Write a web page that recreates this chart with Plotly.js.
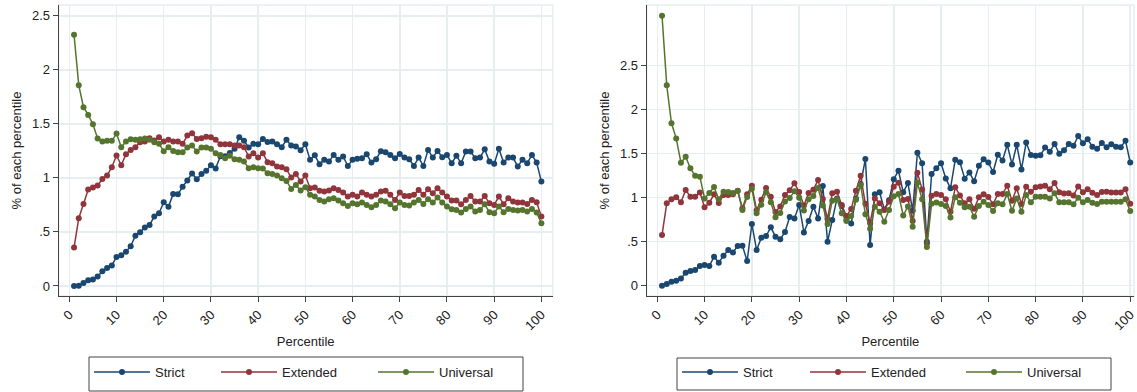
<!DOCTYPE html>
<html>
<head>
<meta charset="utf-8">
<script src="https://cdn.plot.ly/plotly-3.0.1.min.js"></script>
<style>html,body{margin:0;padding:0;background:#fff;}#chart{width:1137px;height:392px;}</style>
</head>
<body>
<div id="chart"></div>
<script>
const percentile = [1,2,3,4,5,6,7,8,9,10,11,12,13,14,15,16,17,18,19,20,21,22,23,24,25,26,27,28,29,30,31,32,33,34,35,36,37,38,39,40,41,42,43,44,45,46,47,48,49,50,51,52,53,54,55,56,57,58,59,60,61,62,63,64,65,66,67,68,69,70,71,72,73,74,75,76,77,78,79,80,81,82,83,84,85,86,87,88,89,90,91,92,93,94,95,96,97,98,99,100];
const seriesNames = ["Strict", "Extended", "Universal"];
const xTicks = [0,10,20,30,40,50,60,70,80,90,100];
const yTicksLeft = [0,0.5,1,1.5,2,2.5];
const yTickTextLeft = ["0",".5","1","1.5","2","2.5"];
const yTicksRight = [0,0.5,1,1.5,2,2.5];
const yTickTextRight = ["0",".5","1","1.5","2","2.5"];

// Left panel
const leftStrict = [0.0,0.003,0.027,0.053,0.06,0.087,0.135,0.165,0.19,0.268,0.284,0.316,0.368,0.465,0.497,0.542,0.565,0.642,0.672,0.775,0.732,0.852,0.848,0.917,0.977,1.041,0.987,
1.035,1.065,1.118,1.088,1.2,1.2,1.23,1.27,1.377,1.343,1.281,1.315,1.312,1.361,1.333,1.336,1.312,1.284,1.352,1.299,1.29,1.256,1.312,1.167,1.21,1.127,1.167,1.151,1.213,1.167,1.198,1.111,1.167,1.176,1.182,1.219,1.142,
1.173,1.247,1.238,1.213,1.182,1.222,1.188,1.173,1.111,1.188,1.111,1.259,1.188,1.25,1.191,1.213,1.136,1.204,1.136,1.244,1.244,1.182,1.188,1.265,1.151,1.13,1.269,1.142,1.188,1.188,1.105,1.167,1.136,1.213,1.142,0.966];
const leftExtended = [0.355,0.627,0.759,0.892,0.91,0.929,0.99,1.022,1.099,1.207,1.117,1.219,1.259,1.284,1.33,1.336,1.367,1.346,1.377,1.336,1.352,1.336,1.336,1.315,1.392,1.414,1.36,
1.367,1.38,1.377,1.352,1.312,1.312,1.312,1.299,1.299,1.284,1.198,1.228,1.188,1.228,1.145,1.136,1.105,1.099,1.08,1.003,1.037,0.966,1.022,0.904,0.91,0.88,0.873,0.883,0.904,0.889,0.864,0.827,0.843,0.827,0.864,0.843,0.827,
0.843,0.873,0.88,0.843,0.796,0.864,0.833,0.833,0.843,0.889,0.843,0.895,0.858,0.904,0.864,0.827,0.79,0.79,0.756,0.796,0.833,0.781,0.781,0.833,0.765,0.75,0.827,0.756,0.812,0.781,0.772,0.772,0.759,0.796,0.775,0.642];
const leftUniversal = [2.324,1.858,1.654,1.583,1.497,1.364,1.336,1.343,1.343,1.41,1.284,1.336,1.358,1.352,1.358,1.364,1.352,1.33,1.315,1.247,1.284,1.25,1.238,1.238,1.281,1.299,1.244,
1.281,1.281,1.269,1.228,1.213,1.182,1.204,1.173,1.167,1.151,1.09,1.099,1.09,1.086,1.043,1.037,1.022,0.997,0.972,0.898,0.935,0.883,0.914,0.843,0.827,0.796,0.781,0.802,0.812,0.79,0.765,0.741,0.765,0.756,0.772,0.75,0.728,
0.75,0.79,0.781,0.756,0.719,0.772,0.75,0.744,0.772,0.796,0.759,0.802,0.772,0.818,0.772,0.735,0.71,0.704,0.679,0.713,0.735,0.688,0.704,0.756,0.682,0.673,0.735,0.682,0.713,0.704,0.698,0.704,0.688,0.713,0.679,0.58];

// Right panel
const rightStrict = [0.0,0.019,0.045,0.057,0.083,0.148,0.166,0.178,0.223,0.235,0.223,0.329,0.261,0.341,0.405,0.378,0.45,0.454,0.28,0.7,0.405,0.545,0.564,0.662,0.556,0.526,0.61,
0.78,0.764,0.916,0.605,0.734,0.897,0.764,1.131,0.499,0.745,0.991,0.904,0.745,0.707,0.991,1.154,
1.438,0.462,1.037,1.06,0.866,0.97,1.207,1.305,1.06,1.165,0.85,1.51,1.389,0.5,1.268,1.332,1.389,1.218,1.105,1.43,1.4,1.215,1.285,1.185,1.36,1.434,1.398,1.29,1.487,1.422,1.6,1.377,1.6,1.32,1.625,1.483,1.474,1.48,1.568,1.521,1.608,1.498,1.536,1.608,1.587,1.699,1.616,1.663,1.578,1.555,1.62,1.572,1.606,1.578,1.572,1.646,1.398];
const rightExtended = [0.575,0.935,0.98,1.003,0.946,1.086,1.01,1.01,1.059,0.889,0.942,1.037,0.94,1.029,1.029,1.037,1.078,0.88,1.037,1.135,0.855,0.975,1.108,1.01,0.836,0.9,1.029,
1.082,1.162,1.063,0.91,1.052,1.09,1.199,0.985,0.758,1.048,1.067,0.916,0.79,0.87,1.077,1.249,
0.93,0.71,0.991,0.935,0.859,0.953,1.124,1.169,0.972,0.984,0.734,1.283,1.093,0.48,1.022,1.04,1.029,0.98,0.84,1.116,1.024,0.935,0.98,0.874,1.005,1.038,1.006,0.925,1.04,1.04,1.135,0.963,1.105,0.927,1.124,1.065,1.116,1.127,1.135,1.095,1.165,1.062,1.046,1.048,1.024,1.127,1.062,1.095,1.056,1.029,1.063,1.065,1.059,1.059,1.059,1.095,0.93];
const rightUniversal = [3.065,2.274,1.843,1.672,1.396,1.464,1.332,1.249,1.237,0.991,1.052,1.12,0.982,1.067,1.063,1.053,1.076,0.859,1.006,1.099,0.821,0.92,1.061,0.948,0.776,0.825,0.957,
0.995,1.071,0.997,0.853,0.98,1.018,1.11,0.91,0.7,0.965,0.98,0.821,0.734,0.79,0.976,1.143,
0.812,0.645,0.897,0.84,0.726,0.858,1.014,1.04,0.797,0.9,0.67,1.169,0.98,0.44,0.931,0.944,0.927,0.904,0.774,1.003,0.942,0.889,0.897,0.783,0.904,0.953,0.916,0.848,0.935,0.923,1.04,0.851,0.991,0.84,1.029,0.946,1.01,1.01,1.01,0.991,1.048,0.946,0.946,0.946,0.923,0.999,0.946,0.972,0.942,0.927,0.953,0.953,0.953,0.953,0.953,0.98,0.848];

const colors = ["#1a476f", "#90353b", "#55752f"];
const FONT = "Liberation Sans, Arial, sans-serif";
const TXT = "#222222";
const GRID = "#e6eef0";
const AXIS = "#444444";

function mk(y, i, xa, ya, lg) {
  return {
    x: percentile, y: y, name: seriesNames[i], type: "scatter", mode: "lines+markers",
    xaxis: xa, yaxis: ya, legend: lg, showlegend: true,
    line: {color: colors[i], width: 1.5},
    marker: {color: colors[i], size: 6, symbol: "circle"}
  };
}
const data = [
  mk(leftStrict, 0, "x", "y", "legend"),
  mk(leftExtended, 1, "x", "y", "legend2"),
  mk(leftUniversal, 2, "x", "y", "legend3"),
  mk(rightStrict, 0, "x2", "y2", "legend4"),
  mk(rightExtended, 1, "x2", "y2", "legend5"),
  mk(rightUniversal, 2, "x2", "y2", "legend6")
];

function xax(domain, range, anchor) {
  return {
    domain: domain, range: range, anchor: anchor,
    tickmode: "array", tickvals: xTicks, tickangle: -45,
    showgrid: true, gridcolor: GRID, gridwidth: 1.5,
    showline: true, linecolor: AXIS, linewidth: 1,
    ticks: "outside", ticklen: 5, tickcolor: AXIS,
    zeroline: false,
    tickfont: {family: FONT, size: 13, color: TXT},
    title: {text: "Percentile", font: {family: FONT, size: 13, color: TXT}, standoff: 4}
  };
}
function yax(domain, range, anchor, tv, tt) {
  return {
    domain: domain, range: range, anchor: anchor,
    tickmode: "array", tickvals: tv, ticktext: tt,
    showgrid: true, gridcolor: GRID, gridwidth: 1.5,
    showline: true, linecolor: AXIS, linewidth: 1,
    ticks: "outside", ticklen: 5, tickcolor: AXIS,
    zeroline: false,
    tickfont: {family: FONT, size: 13, color: TXT},
    title: {text: "% of each percentile", font: {family: FONT, size: 13, color: TXT}, standoff: 7}
  };
}
const W = 1137, H = 392;
const yDom = [1 - 296/H, 1 - 5/H];
function leg(px) {
  return {
    orientation: "h", x: px/W, xanchor: "left", y: 1 - 357/H, yanchor: "top",
    borderwidth: 0, bgcolor: "rgba(0,0,0,0)",
    font: {family: FONT, size: 13, color: TXT}, itemwidth: 56, itemclick: false
  };
}
const layout = {
  width: W, height: H,
  margin: {l: 0, r: 0, t: 0, b: 0},
  paper_bgcolor: "#ffffff", plot_bgcolor: "#ffffff",
  font: {family: FONT, size: 13, color: TXT},
  xaxis: xax([58.7/W, 552.7/W], [-2.25, 102.4], "y"),
  yaxis: yax(yDom, [-0.093, 2.60], "x", yTicksLeft, yTickTextLeft),
  xaxis2: xax([646.7/W, 1134/W], [-2.24, 100.8], "y2"),
  yaxis2: yax(yDom, [-0.117, 3.186], "x2", yTicksRight, yTickTextRight),
  shapes: [
    {type: "rect", xref: "x domain", yref: "y domain", x0: 0, x1: 1, y0: 0, y1: 1, line: {color: GRID, width: 1.5}, layer: "below"},
    {type: "rect", xref: "x2 domain", yref: "y2 domain", x0: 0, x1: 1, y0: 0, y1: 1, line: {color: GRID, width: 1.5}, layer: "below"},
    {type: "rect", xref: "paper", yref: "paper", x0: 89/W, x1: 523/W, y0: 1 - 391/H, y1: 1 - 357/H, line: {color: "#444444", width: 1}, fillcolor: "rgba(0,0,0,0)"},
    {type: "rect", xref: "paper", yref: "paper", x0: 677/W, x1: 1111/W, y0: 1 - 390/H, y1: 1 - 358/H, line: {color: "#444444", width: 1}, fillcolor: "rgba(0,0,0,0)"}
  ],
  legend: leg(89),
  legend2: leg(216),
  legend3: leg(373),
  legend4: leg(677),
  legend5: leg(805),
  legend6: leg(961),
  showlegend: true
};
Plotly.newPlot("chart", data, layout, {displayModeBar: false, staticPlot: true});
</script>
</body>
</html>
